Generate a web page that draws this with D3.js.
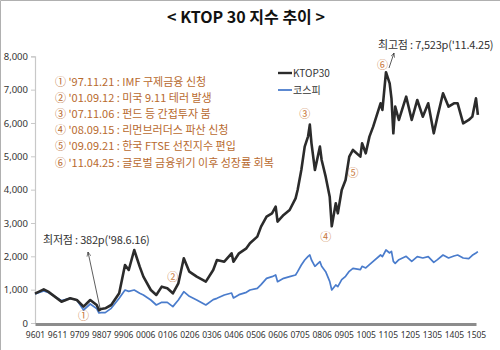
<!DOCTYPE html>
<html>
<head>
<meta charset="utf-8">
<script src="https://cdn.jsdelivr.net/npm/d3@7"></script>
<style>
  body { margin: 0; background: #fff; }
  svg { display: block; font-family: "Noto Sans CJK KR", "Noto Sans", sans-serif; }
</style>
</head>
<body>
<div class="canvas"></div>
<script>
// month codes (YYMM) of the sampled points
const months = [
  '9601','9605','9607','9701','9705','9708','9711','9802','9805','9806',
  '9807','9809','9812','9904','9907','9909','9912','0003','0005','0009',
  '0012','0103','0106','0109','0112','0203','0206','0210','0303','0307',
  '0309','0401','0405','0406','0409','0501','0503','0507','0509','0512',
  '0603','0605','0606','0609','0612','0703','0704','0706','0708','0710',
  '0711','0712','0802','0805','0806','0808','0810','0811','0901','0902',
  '0904','0906','0908','0910','1002','1003','1005','1007','1009','1101',
  '1102','1104','1106','1107','1108','1109','1111','1203','1206','1209',
  '1212','1303','1306','1308','1311','1402','1405','1407','1410','1501',
  '1503','1505','1506'
];

// KTOP30 index
const ktop30 = [
  880, 1010, 940, 640, 740, 690, 490, 690, 540, 382,
  420, 440, 540, 890, 1740, 1590, 2190, 1690, 1390, 990,
  840, 1090, 1040, 890, 1190, 1940, 1540, 1390, 1240, 1590,
  1890, 1840, 2090, 1840, 2090, 2240, 2390, 2590, 2890, 3190,
  3290, 3490, 3040, 3240, 3390, 3740, 3990, 4590, 5290, 5600,
  5950, 5390, 4590, 5290, 4890, 4390, 3790, 2900, 3590, 3290,
  3990, 4290, 4990, 5190, 4990, 5390, 5090, 5590, 5890, 6590,
  6390, 7523, 7190, 6740, 5690, 6490, 6090, 6790, 6090, 6690,
  6190, 6590, 5690, 6190, 6890, 6490, 6590, 6590, 5990, 6090,
  6190, 6740, 6240
];

// KOSPI
const kospi = [
  870, 960, 920, 670, 740, 690, 390, 570, 430, 300,
  310, 310, 440, 740, 990, 950, 990, 890, 840, 690,
  540, 620, 620, 490, 690, 940, 800, 690, 540, 700,
  740, 840, 900, 750, 850, 920, 990, 1040, 1150, 1340,
  1390, 1440, 1240, 1340, 1390, 1440, 1540, 1740, 1890, 2000,
  2040, 1890, 1700, 1840, 1700, 1540, 1250, 990, 1140, 1090,
  1300, 1400, 1550, 1640, 1600, 1700, 1650, 1750, 1850, 2040,
  1990, 2190, 2100, 2150, 1850, 1790, 1900, 2000, 1850, 1990,
  1950, 1990, 1820, 1900, 2040, 1950, 2010, 2040, 1950, 1930,
  2030, 2100, 2140
];

// x axis labels
const tickLabels = [
  '9601','9611','9709','9807','9906','0006','0106','0206','0306','0406',
  '0506','0606','0705','0806','0905','1005','1105','1205','1305','1405','1505'
];
const yTicks = [0, 1000, 2000, 3000, 4000, 5000, 6000, 7000, 8000];

// event notes
const notes = [
  "① '97.11.21 : IMF 구제금융 신청",
  "② '01.09.12 : 미국 9.11 테러 발생",
  "③ '07.11.06 : 펀드 등 간접투자 붐",
  "④ '08.09.15 : 리먼브러더스 파산 신청",
  "⑤ '09.09.21 : 한국 FTSE 선진지수 편입",
  "⑥ '11.04.25 : 글로벌 금융위기 이후 성장률 회복"
];
const markSymbols = ['①','②','③','④','⑤','⑥'];
const markMonths = ['9711','0109','0708','0808','0910','1102'];
const markLevels = [210, 1380, 6270, 2580, 4500, 7740];

const W = 500, H = 350;
const margin = { left: 35, right: 476, top: 56.3, bottom: 323 };

const parse = d3.timeParse('%y%m');
const fmt = d3.timeFormat('%y%m');

const svg = d3.select('.canvas')
    .append('svg')
    .attr('width', W)
    .attr('height', H);

// frame edges
svg.append('path')
    .attr('d', `M0.5,${H} V0.5 H${W}`)
    .attr('fill', 'none')
    .attr('stroke', '#b0b0b0');

const tickDates = tickLabels.map(parse);
const step = (margin.right - margin.left) / (tickDates.length - 1);

// category-like time axis: labels evenly spaced
const x = d3.scaleTime()
    .domain(tickDates)
    .range(tickDates.map((d, i) => margin.left + i * step));

const y = d3.scaleLinear()
    .domain([0, 8000])
    .range([margin.bottom, margin.top]);

// y axis
const yAxis = d3.axisLeft(y)
    .tickValues(yTicks)
    .tickSize(4)
    .tickPadding(3)
    .tickFormat(d3.format(','));

const yg = svg.append('g')
    .attr('transform', `translate(${margin.left}, 0)`)
    .call(yAxis);
yg.select('.domain').attr('stroke', '#c8c8c8').attr('stroke-width', 1.2);
yg.selectAll('.tick line').attr('stroke', '#c8c8c8');
yg.selectAll('text')
    .attr('fill', '#333')
    .style('font-size', '9.5px')
    .style('font-family', '"Noto Sans", sans-serif');

// x axis
const xAxis = d3.axisBottom(x)
    .tickValues(tickDates)
    .tickSize(0)
    .tickPadding(8)
    .tickFormat(fmt);

const xg = svg.append('g')
    .attr('transform', `translate(0, ${margin.bottom + 1})`)
    .call(xAxis);
xg.select('.domain').attr('stroke', '#8c8c8c').attr('stroke-width', 3);
xg.selectAll('text')
    .attr('fill', '#333')
    .style('font-size', '8.5px')
    .style('font-family', '"Noto Sans", sans-serif');

// lines
const data = months.map((m, i) => ({ date: parse(m), ktop: ktop30[i], kospi: kospi[i] }));

const kospiLine = d3.line().x(d => x(d.date)).y(d => y(d.kospi));
const ktopLine = d3.line().x(d => x(d.date)).y(d => y(d.ktop));

svg.append('path')
    .datum(data)
    .attr('d', kospiLine)
    .attr('fill', 'none')
    .attr('stroke', '#4a7ccc')
    .attr('stroke-width', 1.7)
    .attr('stroke-linejoin', 'round');

svg.append('path')
    .datum(data)
    .attr('d', ktopLine)
    .attr('fill', 'none')
    .attr('stroke', '#2b2b2b')
    .attr('stroke-width', 2.6)
    .attr('stroke-linejoin', 'round');

// title
svg.append('text')
    .attr('x', 246)
    .attr('y', 23)
    .attr('text-anchor', 'middle')
    .attr('font-weight', 'bold')
    .style('font-size', '16px')
    .attr('fill', '#111')
    .text('< KTOP 30 지수 추이 >');

// legend
const legend = svg.append('g');
[['KTOP30', '#2b2b2b', 2.4, 73], ['코스피', '#4a7ccc', 1.8, 90]].forEach(l => {
    legend.append('line')
        .attr('x1', 278).attr('x2', 292)
        .attr('y1', l[3]).attr('y2', l[3])
        .attr('stroke', l[1]).attr('stroke-width', l[2]);
    legend.append('text')
        .attr('x', 293).attr('y', l[3] + 3.5)
        .style('font-size', '10px')
        .attr('fill', '#333')
        .text(l[0]);
});

// notes
svg.selectAll('.note')
    .data(notes)
    .enter()
    .append('text')
    .attr('class', 'note')
    .attr('x', 55)
    .attr('y', (d, i) => 86 + i * 16.1)
    .style('font-size', '11px')
    .attr('fill', '#b86a2e')
    .text(d => d);

// circled markers on the chart
svg.selectAll('.mark')
    .data(markSymbols)
    .enter()
    .append('text')
    .attr('class', 'mark')
    .attr('x', (d, i) => x(parse(markMonths[i])))
    .attr('y', (d, i) => y(markLevels[i]) + 4)
    .attr('text-anchor', 'middle')
    .style('font-size', '11px')
    .attr('fill', '#c8783c')
    .text(d => d);

// peak / trough callouts
const defs = svg.append('defs');
defs.append('marker')
    .attr('id', 'arr')
    .attr('viewBox', '0 0 10 10')
    .attr('refX', 9).attr('refY', 5)
    .attr('markerWidth', 6).attr('markerHeight', 6)
    .attr('orient', 'auto-start-reverse')
    .append('path')
    .attr('d', 'M0,1 L9,5 L0,9')
    .attr('fill', 'none')
    .attr('stroke', '#333')
    .attr('stroke-width', 1.3);

svg.append('text')
    .attr('x', 378).attr('y', 49)
    .style('font-size', '11px')
    .style('letter-spacing', '-0.2px')
    .attr('fill', '#333')
    .text("최고점 : 7,523p('11.4.25)");

svg.append('line')
    .attr('x1', 389).attr('y1', 68)
    .attr('x2', 394).attr('y2', 53)
    .attr('stroke', '#333').attr('stroke-width', 0.8)
    .attr('marker-end', 'url(#arr)');

svg.append('text')
    .attr('x', 43).attr('y', 244)
    .style('font-size', '11px')
    .style('letter-spacing', '-0.2px')
    .attr('fill', '#333')
    .text("최저점 : 382p('98.6.16)");

svg.append('line')
    .attr('x1', 100).attr('y1', 308)
    .attr('x2', 88).attr('y2', 252)
    .attr('stroke', '#333').attr('stroke-width', 0.8)
    .attr('marker-end', 'url(#arr)');
</script>
</body>
</html>
